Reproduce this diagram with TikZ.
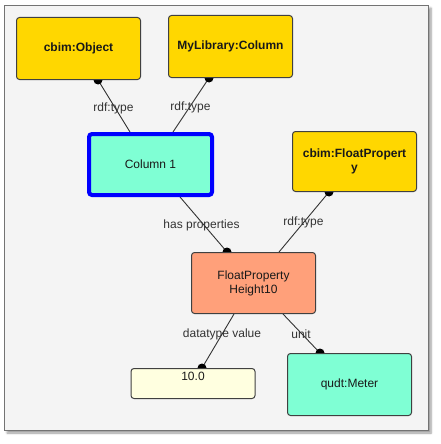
\documentclass[tikz,border=0pt]{standalone}
\usepackage{fontspec}
\setmainfont{Liberation Sans}
\usetikzlibrary{shadows.blur}
\pgfdeclarelayer{bg}
\pgfdeclarelayer{edges}
\pgfsetlayers{bg,edges,main}
\definecolor{gold}{HTML}{FFD700}
\definecolor{aqua}{HTML}{7FFFD4}
\definecolor{salmon}{HTML}{FFA07A}
\definecolor{lightyel}{HTML}{FFFFE0}
\definecolor{framebg}{HTML}{F4F4F4}
\definecolor{edgegray}{HTML}{333333}
\begin{document}
\begin{tikzpicture}[x=1pt,y=-1pt,
  box/.style={draw=black!75, line width=1pt, rounded corners=3pt,
    minimum width=124pt, minimum height=62pt, inner sep=2pt, align=center,
    text=black!90, font=\fontsize{12}{14}\selectfont},
  classbox/.style={box, fill=gold, font=\bfseries\fontsize{12}{14}\selectfont},
  conn/.style={draw=edgegray, line width=0.9pt},
  endot/.style={fill=black},
  elabel/.style={text=black!80, font=\fontsize{12}{14}\selectfont, inner sep=0pt}]
\useasboundingbox (0,0) rectangle (441,444);
\begin{pgfonlayer}{bg}
  \draw[draw=black!55, fill=framebg, line width=0.8pt,
    blur shadow={shadow xshift=3pt, shadow yshift=-3pt, shadow blur steps=6, shadow opacity=40}]
    (4,5) rectangle (428,430);
\end{pgfonlayer}

\node[classbox] (obj) at (78.5,48.5) {cbim:Object};
\node[classbox] (mylib) at (230.5,46.5) {MyLibrary:Column};
\node[box, fill=aqua, draw=blue, line width=4pt, minimum width=123pt, minimum height=61pt] (col) at (150.5,164.5) {Column 1};
\node[classbox, minimum height=60pt] (fpc) at (354.5,161.5) {cbim:FloatPropert\\y};
\node[box, fill=salmon, minimum height=61pt] (fp) at (253.5,283) {FloatProperty\\Height10};
\node[box, fill=lightyel, minimum height=0pt, text height=12pt, text depth=18pt, inner ysep=0pt] (val) at (193,383.5) {10.0};
\node[box, fill=aqua] (meter) at (349.5,384.5) {qudt:Meter};

\begin{pgfonlayer}{edges}
  \draw[conn] ([xshift=-20.5pt]col.north) -- ([xshift=19.5pt]obj.south);
  \fill[endot] ([xshift=19.5pt]obj.south) circle (4.5);
  \draw[conn] ([xshift=22.5pt]col.north) -- ([xshift=-21.5pt]mylib.south);
  \fill[endot] ([xshift=-21.5pt]mylib.south) circle (4.5);
  \draw[conn] ([xshift=29.5pt]col.south) -- ([xshift=-26.5pt]fp.north);
  \fill[endot] ([xshift=-26.5pt]fp.north) circle (4.5);
  \draw[conn] ([xshift=25.5pt]fp.north) -- ([xshift=-25.5pt]fpc.south);
  \fill[endot] ([xshift=-25.5pt]fpc.south) circle (4.5);
  \draw[conn] ([xshift=-19.5pt]fp.south) -- ([xshift=9pt]val.north);
  \fill[endot] ([xshift=9pt]val.north) circle (4.5);
  \draw[conn] ([xshift=29.5pt]fp.south) -- ([xshift=-29.5pt]meter.north);
  \fill[endot] ([xshift=-29.5pt]meter.north) circle (4.5);
\end{pgfonlayer}

\node[elabel] (l1) at (113.5,108) {rdf:type};
\node[elabel] (l2) at (190.5,107) {rdf:type};
\node[elabel] (l3) at (201.5,225) {has properties};
\node[elabel] (l4) at (303.5,222) {rdf:type};
\node[elabel] (l5) at (222,334) {datatype value};
\node[elabel] (l6) at (301,334) {unit};
\end{tikzpicture}
\end{document}
